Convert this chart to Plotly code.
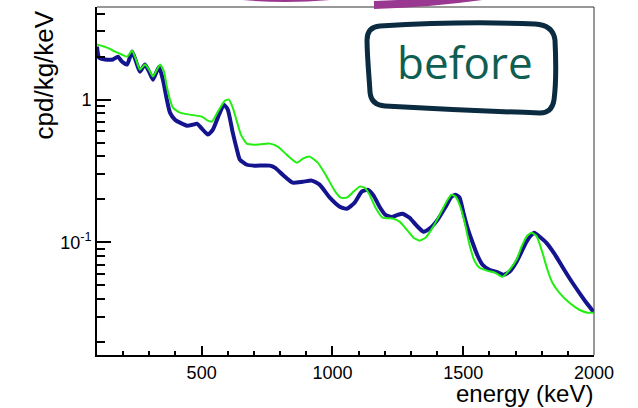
import plotly.graph_objects as go

# ---- data ----
blue_e = [100, 108, 131, 161, 180, 195, 215, 234, 249, 264, 283, 299, 314, 337, 352, 367, 379, 398, 417, 444,
          467, 482, 501, 524, 543, 562, 585, 600, 619, 635, 646, 673, 703, 761, 780, 810, 848, 887, 921, 951,
          990, 1028, 1055, 1085, 1112, 1135, 1158, 1180, 1203, 1226, 1249, 1268, 1295, 1322, 1348, 1371, 1402,
          1433, 1455, 1471, 1486, 1501, 1516, 1536, 1555, 1574, 1600, 1627, 1654, 1677, 1704, 1723, 1742, 1757,
          1772, 1791, 1818, 1849, 1879, 1910, 1944, 1971, 1998]
blue_v = [2.35, 1.97, 1.91, 1.91, 2.00, 1.85, 1.76, 2.17, 1.85, 1.57, 1.76, 1.57, 1.38, 1.70, 1.38, 1.0, 0.811,
          0.724, 0.690, 0.657, 0.668, 0.679, 0.626, 0.569, 0.616, 0.748, 0.922, 0.851, 0.587, 0.446, 0.380, 0.350,
          0.345, 0.345, 0.334, 0.298, 0.262, 0.266, 0.271, 0.254, 0.206, 0.178, 0.172, 0.190, 0.227, 0.234, 0.212,
          0.178, 0.156, 0.151, 0.156, 0.159, 0.149, 0.131, 0.119, 0.125, 0.144, 0.178, 0.209, 0.216, 0.206, 0.161,
          0.127, 0.0995, 0.0807, 0.0698, 0.0644, 0.0623, 0.0594, 0.0623, 0.0733, 0.0861, 0.101, 0.111, 0.117,
          0.110, 0.0995, 0.0833, 0.0676, 0.0548, 0.0444, 0.0378, 0.0327]

green_e = [100, 138, 169, 195, 215, 234, 249, 264, 283, 299, 314, 341, 356, 367, 379, 390, 417, 455, 501, 524,
           539, 562, 589, 604, 619, 635, 650, 673, 703, 761, 791, 825, 864, 887, 913, 944, 978, 1009, 1032, 1055,
           1081, 1104, 1123, 1142, 1165, 1192, 1230, 1257, 1284, 1310, 1333, 1356, 1383, 1410, 1436, 1455, 1471,
           1486, 1505, 1524, 1543, 1562, 1593, 1623, 1650, 1677, 1704, 1723, 1742, 1761, 1780, 1803, 1822, 1841,
           1868, 1906, 1944, 1975, 1998]
green_v = [2.43, 2.31, 2.17, 2.07, 2.00, 2.20, 1.91, 1.62, 1.76, 1.62, 1.45, 1.76, 1.57, 1.23, 1.0, 0.879, 0.811,
           0.785, 0.760, 0.712, 0.701, 0.824, 0.984, 1.0, 0.879, 0.701, 0.569, 0.492, 0.484, 0.492, 0.469, 0.412,
           0.362, 0.386, 0.399, 0.362, 0.289, 0.230, 0.206, 0.206, 0.227, 0.246, 0.242, 0.216, 0.175, 0.149, 0.147,
           0.140, 0.123, 0.108, 0.103, 0.108, 0.127, 0.156, 0.193, 0.216, 0.209, 0.184, 0.140, 0.0964, 0.0744,
           0.0665, 0.0633, 0.0613, 0.0575, 0.0644, 0.0756, 0.0933, 0.110, 0.117, 0.111, 0.0847, 0.0644, 0.0522,
           0.0444, 0.0378, 0.0338, 0.0322, 0.0322]

x_major = [500, 1000, 1500, 2000]
x_minor = [200, 300, 400, 600, 700, 800, 900, 1100, 1200, 1300, 1400, 1600, 1700, 1800, 1900]
y_major = [0.1, 1]
y_major_text = ["10<sup>-1</sup>", "1"]
y_minor = [0.02, 0.03, 0.04, 0.05, 0.06, 0.07, 0.08, 0.09, 0.2, 0.3, 0.4, 0.5, 0.6, 0.7, 0.8, 0.9, 2, 3, 4]

W, H = 638, 408
ML, MR, MT, MB = 97, 44, 7, 53
PW, PH = W - ML - MR, H - MT - MB


def px(x, y):
    return (x - ML) / PW, (H - MB - y) / PH


def path(cmds):
    out = []
    for c in cmds:
        if isinstance(c, str):
            out.append(c)
        else:
            xx, yy = px(*c)
            out.append(f"{xx:.4f},{yy:.4f}")
    return " ".join(out)


fig = go.Figure()
fig.add_trace(go.Scatter(x=blue_e, y=blue_v, mode="lines",
                         line=dict(color="#14148f", width=4, shape="spline", smoothing=0.5)))
fig.add_trace(go.Scatter(x=green_e, y=green_v, mode="lines",
                         line=dict(color="#22ee11", width=2, shape="spline", smoothing=0.5)))

font = "Liberation Sans, Arial, sans-serif"
fig.update_layout(
    width=W, height=H, showlegend=False,
    margin=dict(l=ML, r=MR, t=MT, b=MB),
    paper_bgcolor="white", plot_bgcolor="white",
    xaxis=dict(range=[100, 2000], showgrid=False, zeroline=False,
               showline=True, linecolor="black", linewidth=2,
               ticks="inside", ticklen=9, tickwidth=2, tickcolor="black",
               tickvals=x_major, ticktext=[str(v) for v in x_major],
               tickfont=dict(family=font, size=18, color="black"),
               minor=dict(tickvals=x_minor, ticks="inside", ticklen=4, tickwidth=2, tickcolor="black")),
    yaxis=dict(type="log", range=[-1.7878, 0.6484], showgrid=False, zeroline=False,
               showline=True, linecolor="black", linewidth=2,
               ticks="inside", ticklen=14, tickwidth=2, tickcolor="black",
               tickvals=y_major, ticktext=y_major_text,
               tickfont=dict(family=font, size=18, color="black"),
               minor=dict(tickvals=y_minor, ticks="inside", ticklen=8, tickwidth=2, tickcolor="black")),
)

shapes = []
# thin frame on top/right
shapes.append(dict(type="line", xref="paper", yref="paper", x0=0, x1=1, y0=1, y1=1,
                   line=dict(color="#333333", width=1)))
shapes.append(dict(type="line", xref="paper", yref="paper", x0=1, x1=1, y0=0, y1=1,
                   line=dict(color="#333333", width=1)))
# hand-drawn box
box = path(["M", (380, 26), "C", (430, 23), (490, 22), (535, 24), "Q", (553, 25), (555, 40),
            "C", (556, 60), (556, 85), (554, 100), "Q", (552, 113), (540, 113),
            "C", (480, 111), (420, 108), (385, 106), "Q", (371, 105), (370, 92),
            "C", (369, 75), (367, 55), (367, 40), "Q", (367, 27), (380, 26), "Z"])
shapes.append(dict(type="path", xref="paper", yref="paper", path=box,
                   line=dict(color="#0b2b40", width=5)))
# purple strokes at top
p1 = path(["M", (225, -6), "C", (255, -2), (295, -1), (330, -4)])
p2 = path(["M", (374, 5), "C", (405, 4), (440, 2), (482, -4)])
for p in (p1, p2):
    shapes.append(dict(type="path", xref="paper", yref="paper", path=p,
                       line=dict(color="#9a3790", width=8)))
fig.update_layout(shapes=shapes)

annotations = []
bx, by = px(465, 62)
annotations.append(dict(x=bx, y=by, xref="paper", yref="paper", text="before", showarrow=False,
                        xanchor="center", yanchor="middle",
                        font=dict(family="Open Sans, Noto Sans, sans-serif", size=44, color="#0f5e52")))
ex, ey = px(595, 393)
annotations.append(dict(x=ex, y=ey, xref="paper", yref="paper", text="energy (keV)", showarrow=False,
                        xanchor="right", yanchor="middle",
                        font=dict(family=font, size=24, color="black")))
yx, yy = px(43, 9)
annotations.append(dict(x=yx, y=yy, xref="paper", yref="paper", text="cpd/kg/keV", showarrow=False,
                        textangle=-90, xanchor="center", yanchor="top",
                        font=dict(family=font, size=26, color="black")))
fig.update_layout(annotations=annotations)

fig.write_html("out.html")
